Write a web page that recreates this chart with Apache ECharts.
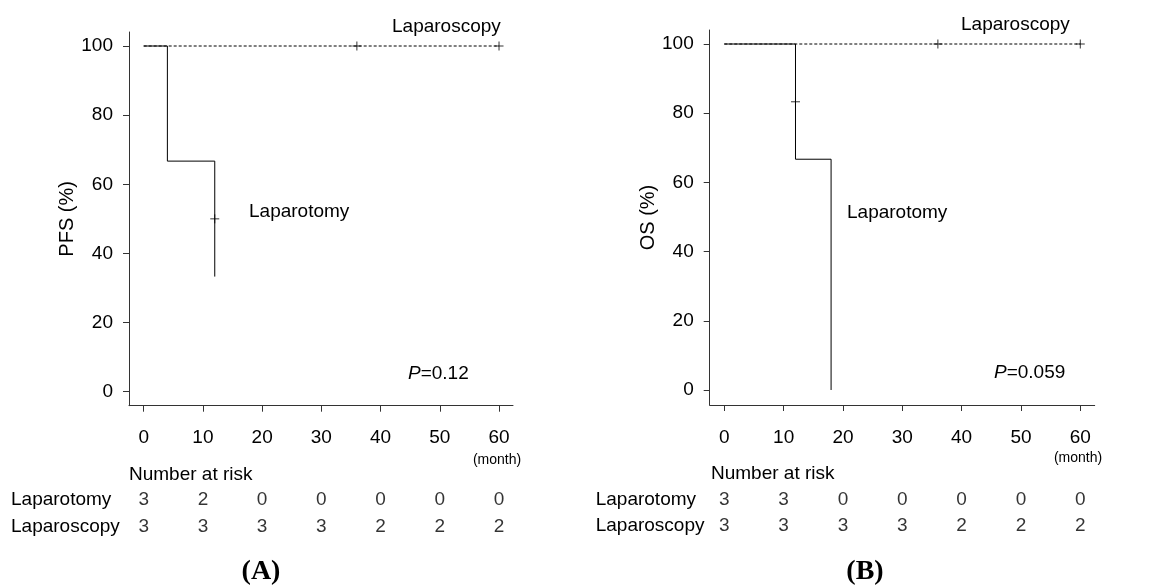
<!DOCTYPE html>
<html>
<head>
<meta charset="utf-8">
<script src="https://cdn.jsdelivr.net/npm/echarts@6/dist/echarts.min.js"></script>
<style>
  html, body { margin: 0; padding: 0; background: #fff; }
  #chart { width: 1166px; height: 588px; }
</style>
</head>
<body>
<div id="chart"></div>
<script>
  // Données
  const months = [0, 10, 20, 30, 40, 50, 60];
  const yTicks = [0, 20, 40, 60, 80, 100];
  const riskRows = ['Laparotomy', 'Laparoscopy'];

  // (A) PFS
  const pfsOtomyTime = [0, 4, 12];
  const pfsOtomySurv = [100, 66.7, 33.3];
  const pfsOtomyCensorTime = [12];
  const pfsOtomyCensorSurv = [50];
  const pfsOscopyTime = [0, 60];
  const pfsOscopySurv = [100, 100];
  const pfsOscopyCensorTime = [36, 60];
  const pfsOscopyCensorSurv = [100, 100];
  const riskA_otomy = [3, 2, 0, 0, 0, 0, 0];
  const riskA_oscopy = [3, 3, 3, 3, 2, 2, 2];

  // (B) OS
  const osOtomyTime = [0, 12, 18];
  const osOtomySurv = [100, 66.7, 0];
  const osOtomyCensorTime = [12];
  const osOtomyCensorSurv = [83.3];
  const osOscopyTime = [0, 60];
  const osOscopySurv = [100, 100];
  const osOscopyCensorTime = [36, 60];
  const osOscopyCensorSurv = [100, 100];
  const riskB_otomy = [3, 3, 0, 0, 0, 0, 0];
  const riskB_oscopy = [3, 3, 3, 3, 2, 2, 2];

  const FONT = 'Liberation Sans, Arial, sans-serif';
  const TXT = '#000';
  const AXC = '#333';
  const PLUS = 'path://M5,0L5,10M0,5L10,5';

  const zip = (a, b) => a.map((v, i) => [v, b[i]]);

  function mainX(idx, min, max) {
    return {
      type: 'value', gridIndex: idx, min: min, max: max,
      axisLine: { show: true, onZero: false, lineStyle: { color: AXC, width: 1 } },
      axisTick: { show: true, length: 6, customValues: months, lineStyle: { color: AXC } },
      axisLabel: { customValues: months, margin: 23, fontSize: 19, color: TXT, fontFamily: FONT },
      splitLine: { show: false }
    };
  }
  function mainY(idx, min, max, name) {
    return {
      type: 'value', gridIndex: idx, min: min, max: max,
      name: name, nameLocation: 'middle', nameGap: 44,
      nameTextStyle: { fontSize: 20, color: TXT, fontFamily: FONT },
      axisLine: { show: true, onZero: false, lineStyle: { color: AXC, width: 1 } },
      axisTick: { show: true, length: 6, customValues: yTicks, lineStyle: { color: AXC } },
      axisLabel: { customValues: yTicks, margin: 16, fontSize: 19, color: TXT, fontFamily: FONT },
      splitLine: { show: false }
    };
  }
  function riskX(idx, min, max) {
    return { type: 'value', gridIndex: idx, min: min, max: max, show: false };
  }
  function riskY(idx, margin) {
    return {
      type: 'category', gridIndex: idx, data: riskRows, inverse: true,
      axisLine: { show: false }, axisTick: { show: false },
      axisLabel: { align: 'left', margin: margin, fontSize: 19, color: TXT, fontFamily: FONT }
    };
  }
  function kmLine(ax, time, surv, dashed) {
    return {
      type: 'line', xAxisIndex: ax, yAxisIndex: ax, step: 'end', symbol: 'none',
      data: zip(time, surv), silent: true, z: dashed ? 2 : 3,
      lineStyle: { color: '#000', width: 1, type: dashed ? [3, 2] : 'solid' }
    };
  }
  function censor(ax, time, surv) {
    return {
      type: 'scatter', xAxisIndex: ax, yAxisIndex: ax, symbol: PLUS, symbolSize: 9,
      data: zip(time, surv), silent: true, z: 4,
      itemStyle: { color: 'transparent', borderColor: '#000', borderWidth: 1 }
    };
  }
  function riskSeries(ax, otomy, oscopy) {
    const data = [];
    months.forEach((m, i) => {
      data.push([m, riskRows[0], otomy[i]]);
      data.push([m, riskRows[1], oscopy[i]]);
    });
    return {
      type: 'scatter', xAxisIndex: ax, yAxisIndex: ax, symbolSize: 0, data: data, silent: true,
      label: { show: true, position: 'inside', formatter: p => p.value[2], fontSize: 19, color: TXT, fontFamily: FONT }
    };
  }
  function txt(x, y, text, align, extra) {
    return {
      type: 'text', x: x, y: y, silent: true,
      style: Object.assign({
        text: text, fill: TXT, font: '19px ' + FONT,
        textAlign: align || 'left', textVerticalAlign: 'middle'
      }, extra || {})
    };
  }
  function pText(x, y, val) {
    return {
      type: 'text', x: x, y: y, silent: true,
      style: {
        text: '{i|P}=' + val, fill: TXT, font: '19px ' + FONT,
        textAlign: 'left', textVerticalAlign: 'middle',
        rich: { i: { fontStyle: 'italic', fontSize: 19, fontFamily: FONT, fill: TXT } }
      }
    };
  }

  const chart = echarts.init(document.getElementById('chart'));
  chart.setOption({
    animation: false,
    backgroundColor: '#fff',
    grid: [
      { left: 129, top: 32, width: 384, height: 373.7 },
      { left: 129, top: 486.7, width: 384, height: 53.4 },
      { left: 709.7, top: 30, width: 385, height: 375 },
      { left: 709.7, top: 486, width: 385, height: 53.4 }
    ],
    xAxis: [
      mainX(0, -2.48, 62.36), riskX(1, -2.48, 62.36),
      mainX(2, -2.46, 62.43), riskX(3, -2.46, 62.43)
    ],
    yAxis: [
      mainY(0, -4.05, 104.05, 'PFS (%)'), riskY(1, 118),
      mainY(2, -4.34, 104.05, 'OS (%)'), riskY(3, 114)
    ],
    series: [
      kmLine(0, pfsOscopyTime, pfsOscopySurv, true),
      kmLine(0, pfsOtomyTime, pfsOtomySurv, false),
      censor(0, pfsOtomyCensorTime, pfsOtomyCensorSurv),
      censor(0, pfsOscopyCensorTime, pfsOscopyCensorSurv),
      riskSeries(1, riskA_otomy, riskA_oscopy),
      kmLine(2, osOscopyTime, osOscopySurv, true),
      kmLine(2, osOtomyTime, osOtomySurv, false),
      censor(2, osOtomyCensorTime, osOtomyCensorSurv),
      censor(2, osOscopyCensorTime, osOscopyCensorSurv),
      riskSeries(3, riskB_otomy, riskB_oscopy)
    ],
    graphic: [
      txt(392, 27, 'Laparoscopy'),
      txt(249, 212, 'Laparotomy'),
      pText(408, 374, '0.12'),
      txt(497, 460, '(month)', 'center', { font: '14px ' + FONT }),
      txt(129, 475, 'Number at risk'),
      txt(261, 572, '(A)', 'center', { font: 'bold 28px Liberation Serif, Times New Roman, serif' }),
      txt(961, 25, 'Laparoscopy'),
      txt(847, 213, 'Laparotomy'),
      pText(994, 373, '0.059'),
      txt(1078, 458, '(month)', 'center', { font: '14px ' + FONT }),
      txt(711, 474, 'Number at risk'),
      txt(865, 572, '(B)', 'center', { font: 'bold 28px Liberation Serif, Times New Roman, serif' })
    ]
  });
</script>
</body>
</html>
